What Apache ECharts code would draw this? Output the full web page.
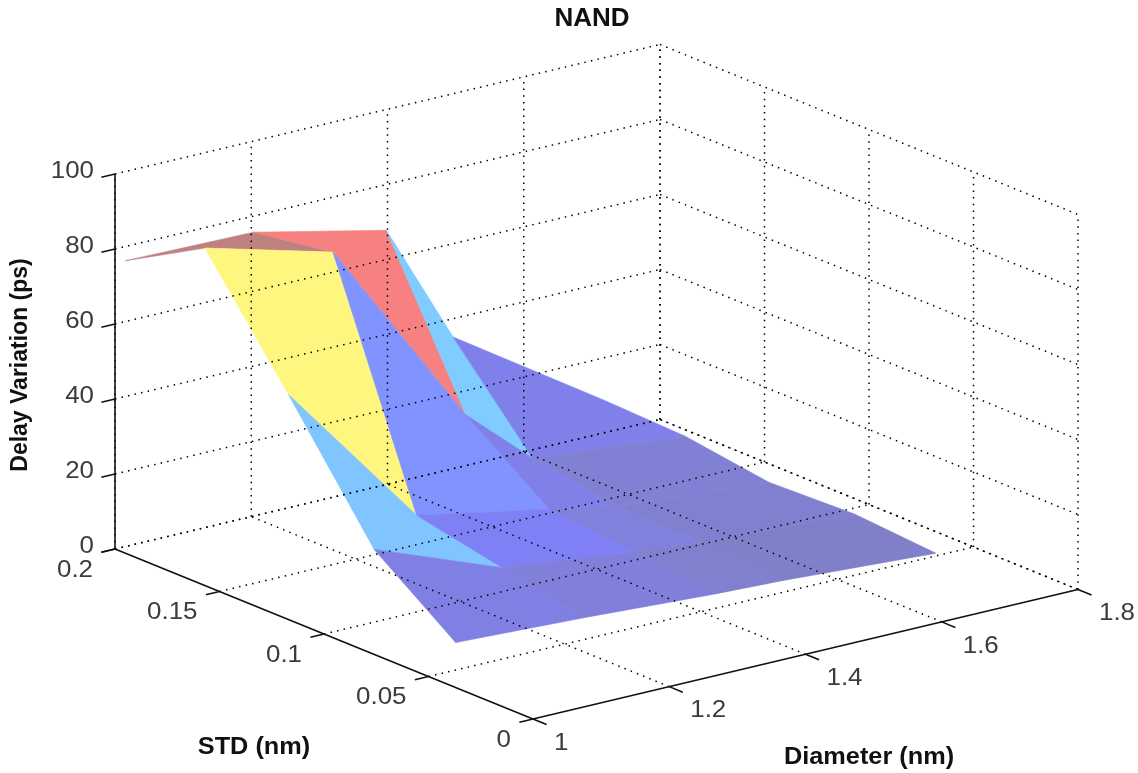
<!DOCTYPE html>
<html>
<head>
<meta charset="utf-8">
<style>html,body{margin:0;padding:0;background:#fff}#c{width:1138px;height:773px;filter:blur(0.35px)}</style>
<script src="https://cdn.jsdelivr.net/npm/echarts@6/dist/echarts.min.js"></script>
</head>
<body>
<div id="c"></div>
<script>
// ---- data ----
var chartTitle = 'NAND';
var diameterName = 'Diameter (nm)';
var stdName = 'STD (nm)';
var delayName = 'Delay Variation (ps)';
var diameterTicks = [1, 1.2, 1.4, 1.6, 1.8];
var stdTicks = [0.2, 0.15, 0.1, 0.05, 0];
var delayTicks = [0, 20, 40, 60, 80, 100];
var diameters = [1, 1.188, 1.383, 1.481, 1.705];
var stds = [0.195, 0.157, 0.117, 0.076, 0.037];
var delayStd0 = [78, 77.5, 69.6, 36.9, 10.2];
var delayStd1 = [90, 80.8, 29, 13.2, 9.4];
var delayStd2 = [60, 19.7, 12.9, 9.5, 6.2];
var delayStd3 = [28, 15, 10.9, 9, 7];
var delayStd4 = [12, 10.5, 8.5, 7.8, 5.4];
var delays = [delayStd0, delayStd1, delayStd2, delayStd3, delayStd4];

// ---- view of the 3D box, as an affine projection onto a hidden plane ----
var view = {ox: 533, oy: 719, dx: 545, dy: -129.5, sx: -418, sy: -170, zy: -3.75};
function project(d, s, z) {
  var a = (d - 1) / 0.8, b = s / 0.2;
  return [view.ox + a * view.dx + b * view.sx, view.oy + a * view.dy + b * view.sy + z * view.zy];
}
// MATLAB jet colormap, seen at half transparency over the white page
var cLow = 6, cHigh = 90, surfaceAlpha = 0.5;
function jet(z) {
  var t = Math.max(0, Math.min(1, (z - cLow) / (cHigh - cLow)));
  function ch(c) {
    var v = Math.max(0, Math.min(1, 1.5 - Math.abs(4 * t - c)));
    return Math.round(255 * (surfaceAlpha * v + 1 - surfaceAlpha));
  }
  return 'rgb(' + ch(3) + ',' + ch(2) + ',' + ch(1) + ')';
}

// ---- derived item lists ----
var dMax = 1.8, sMax = 0.2, zMax = 100;
var gridLines = [];
delayTicks.forEach(function (z) {
  gridLines.push([1, sMax, z, dMax, sMax, z]);
  gridLines.push([dMax, sMax, z, dMax, 0, z]);
});
diameterTicks.forEach(function (d) {
  gridLines.push([d, sMax, 0, d, sMax, zMax]);
  if (d > 1 && d < dMax) gridLines.push([d, 0, 0, d, sMax, 0]);
});
stdTicks.forEach(function (s) {
  gridLines.push([dMax, s, 0, dMax, s, zMax]);
  if (s > 0) gridLines.push([1, s, 0, dMax, s, 0]);
});
gridLines.push([dMax, 0, 0, dMax, sMax, 0]);

var cells = [];
for (var j = 0; j < stds.length - 1; j++)
  for (var i = 0; i < diameters.length - 1; i++) cells.push([i, j]);

var axisLines = [
  [1, sMax, 0, 1, sMax, zMax],
  [1, sMax, 0, 1, 0, 0],
  [1, 0, 0, dMax, 0, 0]
];
var tickLen = {d: 0.02, s: 0.0065};
delayTicks.forEach(function (z) { axisLines.push([1, sMax, z, 1 - tickLen.d, sMax, z]); });
stdTicks.forEach(function (s) { axisLines.push([1, s, 0, 1 - tickLen.d, s, 0]); });
diameterTicks.forEach(function (d) { axisLines.push([d, 0, 0, d, -tickLen.s, 0]); });

var labels = [];
delayTicks.forEach(function (z) { labels.push({p: [1, sMax, z], t: String(z), off: [-21, -3], align: 'right'}); });
stdTicks.forEach(function (s) { labels.push({p: [1, s, 0], t: String(s), off: [-22, 21], align: 'right'}); });
diameterTicks.forEach(function (d) { labels.push({p: [d, 0, 0], t: String(d), off: [21, 24], align: 'left'}); });

var font = '"Liberation Sans", Arial, sans-serif';
function pts(api, a) { return api.coord(project(a[0], a[1], a[2])); }

function drawLine(params, api, style) {
  var src = style.src[params.dataIndex];
  var A = pts(api, src.slice(0, 3)), B = pts(api, src.slice(3, 6));
  return {type: 'line', shape: {x1: A[0], y1: A[1], x2: B[0], y2: B[1]}, style: style.line, silent: true};
}

var chart = echarts.init(document.getElementById('c'), null, {renderer: 'canvas'});
chart.setOption({
  animation: false,
  backgroundColor: '#fff',
  title: {
    text: chartTitle, left: 587, top: 1, textAlign: 'center',
    textStyle: {fontFamily: font, fontSize: 26, fontWeight: 'bold', color: '#111'}
  },
  grid: {left: 0, top: 0, right: 0, bottom: 0, containLabel: false},
  xAxis: {type: 'value', min: 0, max: 1138, show: false},
  yAxis: {type: 'value', min: 0, max: 773, inverse: true, show: false},
  series: [
    {
      name: 'Delay Variation', type: 'custom', coordinateSystem: 'cartesian2d', clip: false, z: 1, silent: true,
      data: cells,
      renderItem: function (p, api) {
        var i = api.value(0), j = api.value(1);
        var corner = function (a, b) { return api.coord(project(diameters[a], stds[b], delays[b][a])); };
        var col = jet(delays[j + 1][i]);
        return {
          type: 'polygon',
          shape: {points: [corner(i, j), corner(i + 1, j), corner(i + 1, j + 1), corner(i, j + 1)]},
          style: {fill: col, stroke: col, lineWidth: 0.6},
          silent: true
        };
      }
    },
    {
      name: 'grid', type: 'custom', coordinateSystem: 'cartesian2d', clip: false, z: 2, silent: true,
      data: gridLines.map(function (g, k) { return [k]; }),
      renderItem: function (p, api) {
        return drawLine(p, api, {src: gridLines, line: {stroke: '#000', lineWidth: 1.5, lineDash: [1.5, 5.2], fill: null}});
      }
    },
    {
      name: 'axes', type: 'custom', coordinateSystem: 'cartesian2d', clip: false, z: 3, silent: true,
      data: axisLines.map(function (g, k) { return [k]; }),
      renderItem: function (p, api) {
        return drawLine(p, api, {src: axisLines, line: {stroke: '#111', lineWidth: 1.6, fill: null}});
      }
    },
    {
      name: 'tick labels', type: 'custom', coordinateSystem: 'cartesian2d', clip: false, z: 4, silent: true,
      data: labels.map(function (g, k) { return [k]; }),
      renderItem: function (p, api) {
        var l = labels[p.dataIndex], c = pts(api, l.p);
        return {
          type: 'text', silent: true, x: c[0] + l.off[0], y: c[1] + l.off[1], scaleX: 1.08,
          style: {x: 0, y: 0, text: l.t, textAlign: l.align, textVerticalAlign: 'middle',
            font: '24px ' + font, fill: '#3c3c3c'}
        };
      }
    },
    {
      name: 'axis names', type: 'custom', coordinateSystem: 'cartesian2d', clip: false, z: 4, silent: true,
      data: [[0], [1], [2]],
      renderItem: function (p, api) {
        var n = [
          {t: stdName, pos: [254, 748], rot: 0, sx: 1.1},
          {t: diameterName, pos: [869, 758], rot: 0, sx: 1.1},
          {t: delayName, pos: [21, 365], rot: Math.PI / 2, sx: 1.0}
        ][p.dataIndex];
        var c = api.coord(n.pos);
        return {
          type: 'text', silent: true, x: c[0], y: c[1], rotation: n.rot, scaleX: n.sx,
          style: {x: 0, y: 0, text: n.t, textAlign: 'center', textVerticalAlign: 'middle',
            font: 'bold 23px ' + font, fill: '#111'}
        };
      }
    }
  ]
});
</script>
</body>
</html>
